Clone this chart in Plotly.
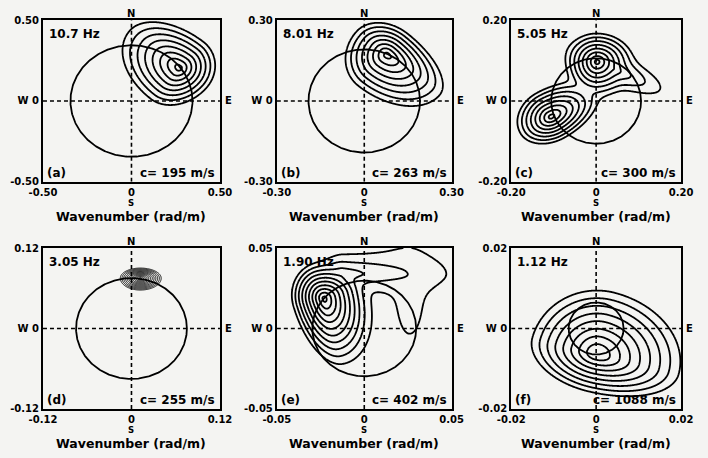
import numpy as np
import plotly.graph_objects as go

# ---------------- data ----------------
panel_tags = ["(a)", "(b)", "(c)", "(d)", "(e)", "(f)"]
freq_labels = ["10.7 Hz", "8.01 Hz", "5.05 Hz", "3.05 Hz", "1.90 Hz", "1.12 Hz"]
freqs_hz = [10.7, 8.01, 5.05, 3.05, 1.90, 1.12]
velocities = [195, 263, 300, 255, 402, 1088]          # m/s
axis_limits = [0.50, 0.30, 0.20, 0.12, 0.05, 0.02]    # rad/m
tick_labels = ["0.50", "0.30", "0.20", "0.12", "0.05", "0.02"]

# spectral lobes: (kx, ky, axis angle deg, contour spacing along +, along -,
#                  across +, across -, relative level)
peaks_a = [(0.27, 0.204, 140, 0.048, 0.026, 0.033, 0.028, 0.0)]
peaks_b = [(0.078, 0.171, -40, 0.031, 0.018, 0.014, 0.020, 0.0)]
peaks_c = [(0.002, 0.097, 0, 0.011, 0.0095, 0.0092, 0.011, 0.0),
           (-0.106, -0.039, 30, 0.016, 0.011, 0.009, 0.008, 0.0),
           (0.04, 0.08, -25, 0.040, 0.03, 0.012, 0.012, -4.5)]
peaks_d = [(0.012, 0.075, 0, 0.0024, 0.0023, 0.00128, 0.0015, 0.0)]
peaks_e = [(-0.0229, 0.0187, -75, 0.0043, 0.0023, 0.0025, 0.0019, 0.0),
           (-0.012, 0.034, 0, 0.018, 0.004, 0.0042, 0.0033, -7.0),
           (0.026, 0.02, 90, 0.06, 0.07, 0.022, 0.022, -9.2)]
peaks_f = [(0.0002, -0.0063, -15, 0.0024, 0.0019, 0.0019, 0.00115, 0.0)]
panel_peaks = [peaks_a, peaks_b, peaks_c, peaks_d, peaks_e, peaks_f]

# contour levels below the maximum: first depth, number of contours (unit step)
contour_first = [0.5, 0.5, 0.5, 0.5, 0.5, 1.25]
contour_count = [8, 8, 8, 12, 10, 8]

# ---------------- layout ----------------
col_x = [(0.0607, 0.3107), (0.391, 0.638), (0.722, 0.962)]
row_y = [(0.603, 0.956), (0.107, 0.4585)]
FONT = "DejaVu Sans"
BG = "#f4f4f2"

fig = go.Figure()
annotations = []
shapes = []
layout = {}


def field(peaks, X, Y):
    terms = []
    for (x0, y0, ang, ap, am, bp, bm, lvl) in peaks:
        t = np.deg2rad(ang)
        dx, dy = X - x0, Y - y0
        u = dx * np.cos(t) + dy * np.sin(t)
        v = -dx * np.sin(t) + dy * np.cos(t)
        su = np.where(u >= 0, ap, am)
        sv = np.where(v >= 0, bp, bm)
        terms.append(lvl - np.sqrt((u / su) ** 2 + (v / sv) ** 2))
    Z = np.logaddexp.reduce(np.array(terms), axis=0)
    return Z - Z.max()


for i in range(6):
    r, c = divmod(i, 3)
    n = "" if i == 0 else str(i + 1)
    xa, ya = "x" + n, "y" + n
    lim = axis_limits[i]
    g = np.linspace(-lim, lim, 281)
    X, Y = np.meshgrid(g, g)
    Z = field(panel_peaks[i], X, Y)
    first, cnt = contour_first[i], contour_count[i]
    fig.add_trace(go.Contour(
        x=g, y=g, z=Z, xaxis=xa, yaxis=ya, showscale=False,
        colorscale=[[0, "black"], [1, "black"]],
        contours=dict(coloring="lines", start=-(first + cnt - 1) - 1e-6, end=-first + 1e-6, size=1),
        line=dict(width=1.8 if i != 3 else 0.9, smoothing=1.0),
        hoverinfo="skip"))
    # slowness circle k = 2*pi*f/c
    kr = 2 * np.pi * freqs_hz[i] / velocities[i]
    th = np.linspace(0, 2 * np.pi, 361)
    fig.add_trace(go.Scatter(x=kr * np.cos(th), y=kr * np.sin(th), xaxis=xa, yaxis=ya,
                             mode="lines", line=dict(color="black", width=1.8),
                             hoverinfo="skip", showlegend=False))
    # dashed crosshair
    for (x0, y0, x1, y1) in [(-lim, 0, lim, 0), (0, -lim, 0, lim)]:
        shapes.append(dict(type="line", xref=xa, yref=ya, x0=x0, y0=y0, x1=x1, y1=y1,
                           line=dict(color="black", width=1.6, dash="4px,3px"), layer="below"))
    tl = tick_labels[i]
    tick_font = dict(family=FONT, size=10, color="black", weight="bold")
    layout["xaxis" + n] = dict(domain=col_x[c], anchor=ya, range=[-lim, lim],
                               showgrid=False, zeroline=False, showline=True, mirror=True,
                               linecolor="black", linewidth=2, ticks="", automargin=False,
                               tickvals=[-lim, 0, lim], ticktext=["-" + tl, "0", tl],
                               tickfont=tick_font, fixedrange=True)
    layout["yaxis" + n] = dict(domain=row_y[r], anchor=xa, range=[-lim, lim],
                               showgrid=False, zeroline=False, showline=True, mirror=True,
                               linecolor="black", linewidth=2, ticks="", automargin=False,
                               tickvals=[-lim, 0, lim], ticktext=["-" + tl, "W 0", tl],
                               tickfont=tick_font, fixedrange=True)
    dx_ = xa + " domain"
    dy_ = ya + " domain"
    tf = dict(family=FONT, color="black", weight="bold")
    annotations += [
        dict(xref=dx_, yref=dy_, x=0.5, y=1, xanchor="center", yanchor="bottom", yshift=-1,
             text="N", showarrow=False, font=dict(size=10, **tf)),
        dict(xref=dx_, yref=dy_, x=1, y=0.5, xanchor="left", yanchor="middle", xshift=3,
             text="E", showarrow=False, font=dict(size=10, **tf)),
        dict(xref=dx_, yref=dy_, x=0.5, y=0, xanchor="center", yanchor="top", yshift=-15,
             text="S", showarrow=False, borderpad=0, font=dict(size=8.5, **tf)),
        dict(xref=dx_, yref=dy_, x=0, y=1, xanchor="left", yanchor="top", xshift=4, yshift=-5,
             text=freq_labels[i], showarrow=False, font=dict(size=12, **tf)),
        dict(xref=dx_, yref=dy_, x=0, y=0, xanchor="left", yanchor="bottom", xshift=2, yshift=0,
             text=panel_tags[i], showarrow=False, font=dict(size=12, **tf)),
        dict(xref=dx_, yref=dy_, x=1, y=0, xanchor="right", yanchor="bottom", xshift=-3, yshift=0,
             text="c= %d m/s" % velocities[i], showarrow=False, font=dict(size=12, **tf)),
        dict(xref=dx_, yref=dy_, x=0.5, y=0, xanchor="center", yanchor="top", yshift=-26,
             text="Wavenumber (rad/m)", showarrow=False, borderpad=0,
             font=dict(size=12.5, **tf)),
    ]

fig.update_layout(width=708, height=458,
                  margin=dict(l=0, r=0, t=0, b=0, autoexpand=False),
                  paper_bgcolor=BG, plot_bgcolor=BG, showlegend=False,
                  annotations=annotations, shapes=shapes, **layout)
fig.write_html("out.html", config={"displayModeBar": False},
               post_script="document.body.style.margin='0px';")
